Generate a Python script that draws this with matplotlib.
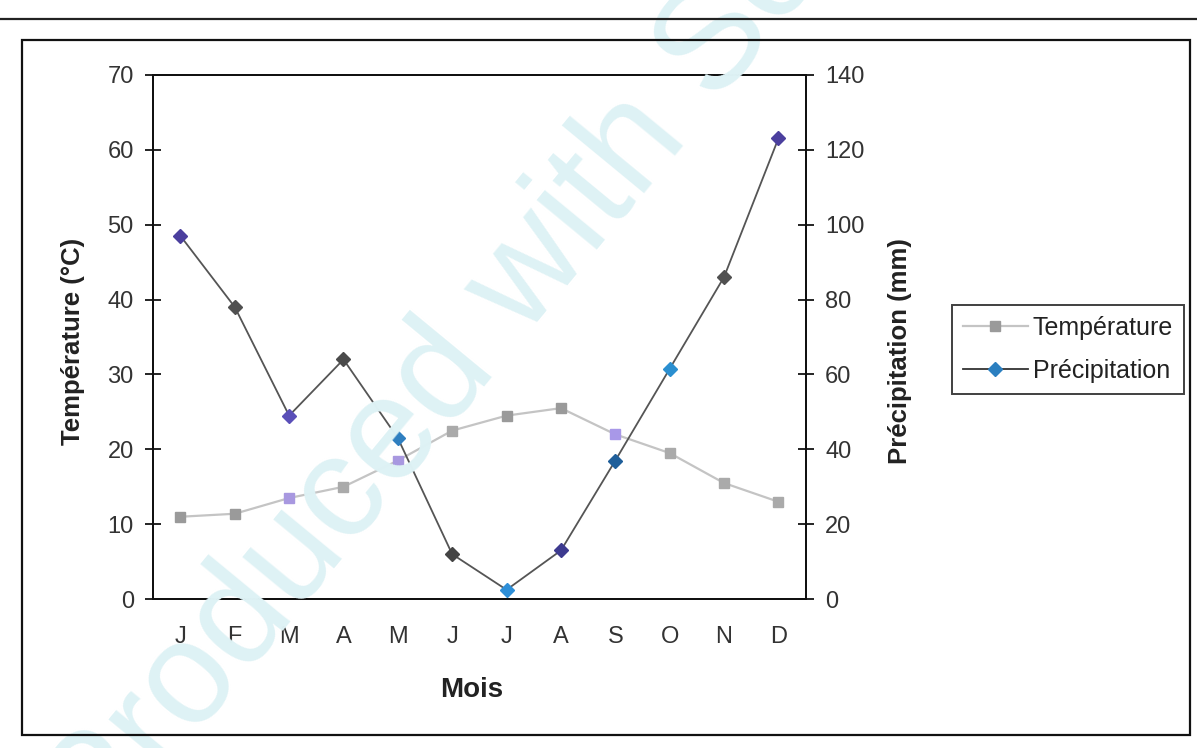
import matplotlib
matplotlib.use("Agg")
import matplotlib.pyplot as plt
from matplotlib.lines import Line2D
from matplotlib.patches import Rectangle

# Monthly climate data
months = ["J", "F", "M", "A", "M", "J", "J", "A", "S", "O", "N", "D"]
temperature = [11, 11.4, 13.5, 15, 18.5, 22.5, 24.5, 25.5, 22, 19.5, 15.5, 13]
precipitation = [97, 78, 49, 64, 43, 12, 2.5, 13, 37, 61.5, 86, 123]

temp_ticks = [0, 10, 20, 30, 40, 50, 60, 70]
prec_ticks = [0, 20, 40, 60, 80, 100, 120, 140]

# Per-point marker tints
prec_marker_colors = ["#4b3f9e", "#505050", "#5a4fb8", "#4a4a4a", "#2f7fc0", "#444444",
                      "#2e8fd8", "#3d3a8f", "#1f5f9a", "#2b8fd0", "#505050", "#4b3f9e"]
temp_marker_colors = ["#9a9a9a", "#9a9a9a", "#a898e0", "#aaaaaa", "#a898e0", "#aaaaaa",
                      "#9a9a9a", "#9a9a9a", "#a898e8", "#aaaaaa", "#aaaaaa", "#aaaaaa"]

FONT = "Liberation Sans"
plt.rcParams["font.family"] = [FONT, "DejaVu Sans"]

fig = plt.figure(figsize=(11.97, 7.48), dpi=100)
fig.patch.set_facecolor("white")

# Watermark behind the chart
fig.text(0.084, -0.138, "Produced with ScanToPDF", fontsize=105, color="#def2f5",
         rotation=50.5, rotation_mode="anchor", ha="left", va="baseline",
         zorder=0, family=FONT)

# Outer frame and page edge
fig.add_artist(Rectangle((0.018, 0.017), 0.976, 0.93, transform=fig.transFigure,
                         fill=False, edgecolor="#111111", linewidth=1.6, zorder=1))
fig.add_artist(Line2D([0, 1], [0.975, 0.975], transform=fig.transFigure,
                      color="#222222", linewidth=1.6, zorder=1))

ax = fig.add_axes([0.128, 0.199, 0.545, 0.701])
ax.set_facecolor("none")
ax2 = ax.twinx()
ax2.set_facecolor("none")

x = [i + 0.5 for i in range(len(months))]

ax.plot(x, temperature, color="#c4c4c4", linewidth=1.6, zorder=2)
for xi, yi, c in zip(x, temperature, temp_marker_colors):
    ax.plot(xi, yi, marker="s", markersize=7, color=c, markeredgecolor=c, zorder=3)

ax2.plot(x, precipitation, color="#555555", linewidth=1.3, zorder=2)
for xi, yi, c in zip(x, precipitation, prec_marker_colors):
    ax2.plot(xi, yi, marker="D", markersize=7.5, color=c, markeredgecolor=c, zorder=3)

ax.set_xlim(0, 12)
ax.set_ylim(0, 70)
ax2.set_ylim(0, 140)
ax.set_xticks(x)
ax.set_xticklabels(months)
ax.set_yticks(temp_ticks)
ax2.set_yticks(prec_ticks)

for a in (ax, ax2):
    for s in a.spines.values():
        s.set_color("#111111")
        s.set_linewidth(1.4)

ax.tick_params(axis="x", length=0, pad=19, labelsize=17, labelcolor="#333333")
ax.tick_params(axis="y", direction="inout", length=12, width=1.2, pad=8,
               labelsize=17, labelcolor="#333333")
ax2.tick_params(axis="y", direction="inout", length=12, width=1.2, pad=8,
                labelsize=17, labelcolor="#333333")

fig.text(0.061, 0.543, "Température (°C)", rotation=90, ha="center", va="center",
         fontsize=18.5, fontweight="bold", color="#222222")
fig.text(0.752, 0.531, "Précipitation (mm)", rotation=90, ha="center", va="center",
         fontsize=18.5, fontweight="bold", color="#222222")
fig.text(0.394, 0.077, "Mois", ha="center", va="center",
         fontsize=20, fontweight="bold", color="#222222")

handles = [
    Line2D([], [], color="#c4c4c4", linewidth=1.6, marker="s", markersize=7,
           markerfacecolor="#9a9a9a", markeredgecolor="#9a9a9a"),
    Line2D([], [], color="#333333", linewidth=1.3, marker="D", markersize=7.5,
           markerfacecolor="#2b7fc0", markeredgecolor="#2b7fc0"),
]
leg = fig.legend(handles, ["Température", "Précipitation"], loc="center left",
                 bbox_to_anchor=(0.795, 0.533), frameon=True, fancybox=False,
                 fontsize=18, handlelength=2.6, handletextpad=0.2,
                 borderpad=0.45, labelspacing=0.75, borderaxespad=0)
leg.get_frame().set_edgecolor("#111111")
leg.get_frame().set_linewidth(1.4)
for t in leg.get_texts():
    t.set_color("#222222")

fig.savefig("out.png", dpi=100, facecolor="white")
